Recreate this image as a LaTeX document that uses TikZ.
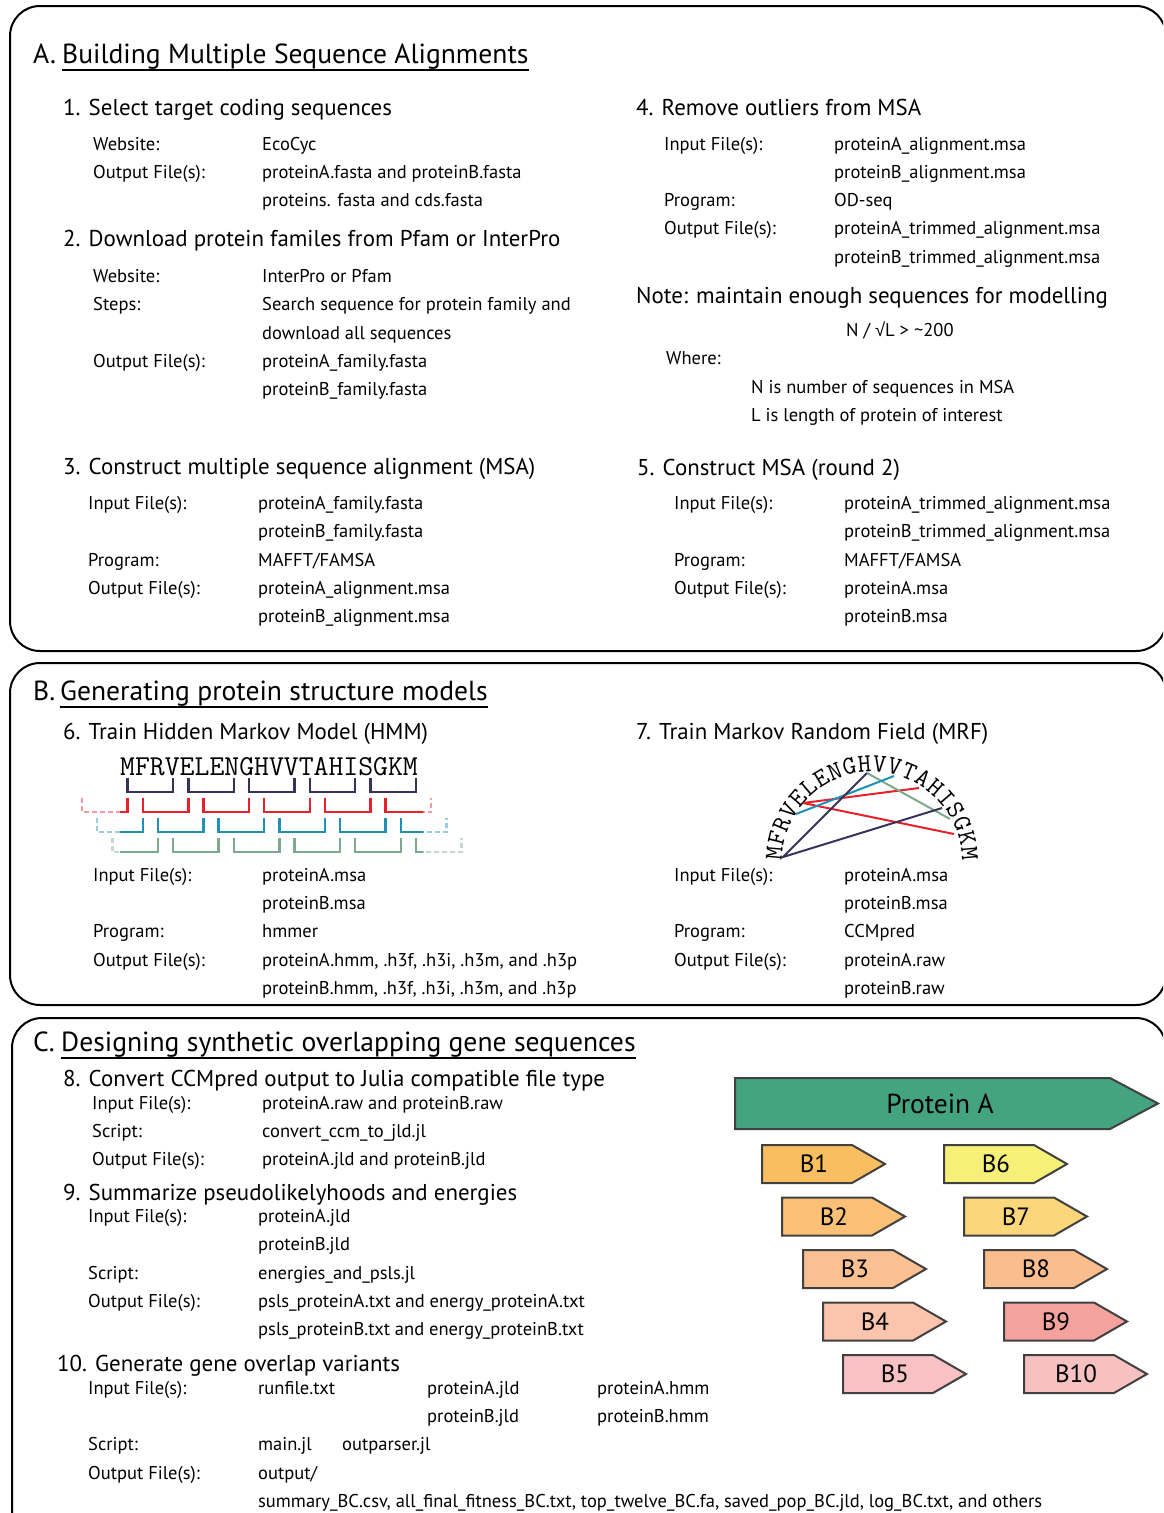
\documentclass[tikz,border=0pt]{standalone}
\usepackage{fontspec}
\setmainfont{PT Sans}
\newfontfamily\symfont{Liberation Sans}
\usetikzlibrary{calc}

\definecolor{hmmnavy}{RGB}{55,50,90}
\definecolor{hmmred}{RGB}{232,32,44}
\definecolor{hmmblue}{RGB}{30,145,180}
\definecolor{hmmgreen}{RGB}{125,170,140}
\definecolor{protA}{RGB}{68,164,130}
\definecolor{b1}{RGB}{249,190,95}
\definecolor{b2}{RGB}{249,192,118}
\definecolor{b3}{RGB}{250,192,145}
\definecolor{b4}{RGB}{251,196,172}
\definecolor{b5}{RGB}{248,194,196}
\definecolor{b6}{RGB}{246,240,120}
\definecolor{b7}{RGB}{252,214,122}
\definecolor{b8}{RGB}{250,190,142}
\definecolor{b9}{RGB}{244,162,158}
\definecolor{b10}{RGB}{247,193,193}

\tikzset{
  panel/.style={line width=2pt, rounded corners=30pt},
  sect/.style={anchor=base west, inner sep=0pt, font=\fontsize{27.6}{32}\selectfont},
  head/.style={anchor=base west, inner sep=0pt, font=\fontsize{22.9}{27}\selectfont},
  txt/.style={anchor=base west, inner sep=0pt, font=\fontsize{18.5}{22}\selectfont},
  residue/.style={inner sep=0pt, font=\ttfamily\fontsize{28.9}{29}\selectfont},
  arcres/.style={inner sep=0pt, font=\ttfamily\fontsize{26}{26}\selectfont},
  gene/.style={draw=black!75, line width=2pt},
  genelab/.style={font=\fontsize{25}{29}\selectfont},
  ulined/.style={line width=1.3pt},
}

% brackets under the sequence, one row per reading offset
\newcommand\hmmrows[1]{%
  \foreach \r/\col/\kmin in {0/hmmnavy/0,1/hmmred/-1,2/hmmblue/-1,3/hmmgreen/-1}{
    \foreach \k in {\kmin,...,4}{
      \pgfmathsetmacro\xs{120+15.18*(\r+4*\k+0.5)}
      \pgfmathsetmacro\xe{\xs+3*15.18}
      \pgfmathsetmacro\yt{778+20*\r}
      \draw[\col, line width=2.4pt, #1] (\xs,\yt) -- (\xs,\yt+14) -- (\xe,\yt+14) -- (\xe,\yt);
    }
  }%
}

\begin{document}
\begin{tikzpicture}[x=1pt, y=-1pt]
  \useasboundingbox (0,0) rectangle (1163,1513);
  \clip (0,0) rectangle (1163,1513);
  % Draw the three panels
  \draw[panel] (10,6) rectangle (1166,651);
  \draw[panel] (10,663) rectangle (1166,1005);
  \draw[panel] (12,1018) rectangle (1166,1545);

  % Panel A
  \node[sect] (Alab) at (33,63) {A.};
  \node[sect] (Atit) at (62,63) {Building Multiple Sequence Alignments};
  \draw[ulined] ($(Atit.base west)+(0,7)$) -- ($(Atit.base east)+(0,7)$);

  \node[head] (s1) at (63,115) {1. Select target coding sequences};
  \node[txt] (s1a) at (93,150) {Website:};
  \node[txt] (s1av) at (262,150) {EcoCyc};
  \node[txt] (s1b) at (93,178) {Output File(s):};
  \node[txt] (s1bv) at (262,178) {proteinA.fasta and proteinB.fasta};
  \node[txt] (s1cv) at (262,206) {proteins. fasta and cds.fasta};

  \node[head] (s2) at (63,246) {2. Download protein familes from Pfam or InterPro};
  \node[txt] (s2a) at (93,282) {Website:};
  \node[txt] (s2av) at (262,282) {InterPro or Pfam};
  \node[txt] (s2b) at (93,310) {Steps:};
  \node[txt] (s2bv) at (262,310) {Search sequence for protein family and};
  \node[txt] (s2cv) at (262,339) {download all sequences};
  \node[txt] (s2d) at (93,367) {Output File(s):};
  \node[txt] (s2dv) at (262,367) {proteinA\_family.fasta};
  \node[txt] (s2ev) at (262,395) {proteinB\_family.fasta};

  \node[head] (s3) at (63,474) {3. Construct multiple sequence alignment (MSA)};
  \node[txt] (s3a) at (88,509) {Input File(s):};
  \node[txt] (s3av) at (258,509) {proteinA\_family.fasta};
  \node[txt] (s3bv) at (258,537) {proteinB\_family.fasta};
  \node[txt] (s3c) at (88,566) {Program:};
  \node[txt] (s3cv) at (258,566) {MAFFT/FAMSA};
  \node[txt] (s3d) at (88,594) {Output File(s):};
  \node[txt] (s3dv) at (258,594) {proteinA\_alignment.msa};
  \node[txt] (s3ev) at (258,622) {proteinB\_alignment.msa};

  \node[head] (s4) at (636,115) {4. Remove outliers from MSA};
  \node[txt] (s4a) at (664,150) {Input File(s):};
  \node[txt] (s4av) at (834,150) {proteinA\_alignment.msa};
  \node[txt] (s4bv) at (834,178) {proteinB\_alignment.msa};
  \node[txt] (s4c) at (664,206) {Program:};
  \node[txt] (s4cv) at (834,206) {OD-seq};
  \node[txt] (s4d) at (664,234) {Output File(s):};
  \node[txt] (s4dv) at (834,234) {proteinA\_trimmed\_alignment.msa};
  \node[txt] (s4ev) at (834,263) {proteinB\_trimmed\_alignment.msa};

  \node[head] (note) at (636,303) {Note: maintain enough sequences for modelling};
  \node[txt] (rule) at (846,336) {N / {\symfont √}L > \textasciitilde200};
  \node[txt] (where) at (666,364) {Where:};
  \node[txt] (wN) at (751,393) {N is number of sequences in MSA};
  \node[txt] (wL) at (751,421) {L is length of protein of interest};

  \node[head] (s5) at (637,475) {5. Construct MSA (round 2)};
  \node[txt] (s5a) at (674,509) {Input File(s):};
  \node[txt] (s5av) at (844,509) {proteinA\_trimmed\_alignment.msa};
  \node[txt] (s5bv) at (844,537) {proteinB\_trimmed\_alignment.msa};
  \node[txt] (s5c) at (674,566) {Program:};
  \node[txt] (s5cv) at (844,566) {MAFFT/FAMSA};
  \node[txt] (s5d) at (674,594) {Output File(s):};
  \node[txt] (s5dv) at (844,594) {proteinA.msa};
  \node[txt] (s5ev) at (844,622) {proteinB.msa};

  % Panel B
  \node[sect] (Blab) at (33,700) {B.};
  \node[sect] (Btit) at (60,700) {Generating protein structure models};
  \draw[ulined] ($(Btit.base west)+(0,7)$) -- ($(Btit.base east)+(0,7)$);

  \node[head] (s6) at (63,739) {6. Train Hidden Markov Model (HMM)};
  \node[residue, anchor=base west] (hmmseq) at (120,775) {MFRVELENGHVVTAHISGKM};
  \begin{scope}
    \clip (120,777) rectangle (423.6,860);
    \hmmrows{}
  \end{scope}
  \begin{scope}
    \clip (60,777) rectangle (120,860) (423.6,777) rectangle (480,860);
    \hmmrows{dash pattern=on 5pt off 3pt, opacity=0.45}
  \end{scope}
  \node[txt] (s6a) at (93,881) {Input File(s):};
  \node[txt] (s6av) at (262,881) {proteinA.msa};
  \node[txt] (s6bv) at (262,909) {proteinB.msa};
  \node[txt] (s6c) at (93,937) {Program:};
  \node[txt] (s6cv) at (262,937) {hmmer};
  \node[txt] (s6d) at (93,966) {Output File(s):};
  \node[txt] (s6dv) at (262,966) {proteinA.hmm, .h3f, .h3i, .h3m, and .h3p};
  \node[txt] (s6ev) at (262,994) {proteinB.hmm, .h3f, .h3i, .h3m, and .h3p};

  \node[head] (s7) at (636,739) {7. Train Markov Random Field (MRF)};
  % residues round an arc
  \coordinate (mrfc) at (872,862);
  \foreach \ch [count=\i from 0] in {M,F,R,V,E,L,E,N,G,H,V,V,T,A,H,I,S,G,K,M}{
    \pgfmathsetmacro\ang{175-8.95*\i}
    \node[arcres, rotate=\ang-90] (m\i) at ($(mrfc)+(\ang:98pt)$) {\ch};
  }
  % couplings
  \coordinate (c1) at (783,857);
  \coordinate (c2) at (867,773);
  \coordinate (c3) at (942,808);
  \coordinate (c4) at (796,814);
  \coordinate (c5) at (894,776);
  \coordinate (c6) at (803,803);
  \coordinate (c7) at (919,788);
  \coordinate (c8) at (954,834);
  \coordinate (c9) at (950,819);
  \draw[hmmred, line width=2pt] (c6) -- (c7) (c6) -- (c8);
  \draw[hmmgreen, line width=2pt] (c2) -- (c9);
  \draw[hmmblue, line width=2pt] (c4) -- (c5);
  \draw[hmmnavy, line width=2pt] (c2) -- (c1) -- (c3);
  \node[txt] (s7a) at (674,881) {Input File(s):};
  \node[txt] (s7av) at (844,881) {proteinA.msa};
  \node[txt] (s7bv) at (844,909) {proteinB.msa};
  \node[txt] (s7c) at (674,937) {Program:};
  \node[txt] (s7cv) at (844,937) {CCMpred};
  \node[txt] (s7d) at (674,966) {Output File(s):};
  \node[txt] (s7dv) at (844,966) {proteinA.raw};
  \node[txt] (s7ev) at (844,994) {proteinB.raw};

  % Panel C
  \node[sect] (Clab) at (33,1051) {C.};
  \node[sect] (Ctit) at (61,1051) {Designing synthetic overlapping gene sequences};
  \draw[ulined] ($(Ctit.base west)+(0,7)$) -- ($(Ctit.base east)+(0,7)$);

  \node[head] (s8) at (63,1086) {8. Convert CCMpred output to Julia compatible file type};
  \node[txt] (s8a) at (92,1109) {Input File(s):};
  \node[txt] (s8av) at (262,1109) {proteinA.raw and proteinB.raw};
  \node[txt] (s8b) at (92,1137) {Script:};
  \node[txt] (s8bv) at (262,1137) {convert\_ccm\_to\_jld.jl};
  \node[txt] (s8c) at (92,1165) {Output File(s):};
  \node[txt] (s8cv) at (262,1165) {proteinA.jld and proteinB.jld};

  \node[head] (s9) at (63,1200) {9. Summarize pseudolikelyhoods and energies};
  \node[txt] (s9a) at (88,1222) {Input File(s):};
  \node[txt] (s9av) at (258,1222) {proteinA.jld};
  \node[txt] (s9bv) at (258,1250) {proteinB.jld};
  \node[txt] (s9c) at (88,1279) {Script:};
  \node[txt] (s9cv) at (258,1279) {energies\_and\_psls.jl};
  \node[txt] (s9d) at (88,1307) {Output File(s):};
  \node[txt] (s9dv) at (258,1307) {psls\_proteinA.txt and energy\_proteinA.txt};
  \node[txt] (s9ev) at (258,1335) {psls\_proteinB.txt and energy\_proteinB.txt};

  \node[head] (s10) at (57,1371) {10. Generate gene overlap variants};
  \node[txt] (s10a) at (88,1394) {Input File(s):};
  \node[txt] (s10av) at (258,1394) {runfile.txt};
  \node[txt] (s10aw) at (427,1394) {proteinA.jld};
  \node[txt] (s10ax) at (597,1394) {proteinA.hmm};
  \node[txt] (s10bw) at (427,1422) {proteinB.jld};
  \node[txt] (s10bx) at (597,1422) {proteinB.hmm};
  \node[txt] (s10c) at (88,1450) {Script:};
  \node[txt] (s10cv) at (258,1450) {main.jl};
  \node[txt] (s10cw) at (342,1450) {outparser.jl};
  \node[txt] (s10d) at (88,1479) {Output File(s):};
  \node[txt] (s10dv) at (258,1479) {output/};
  \node[txt] (s10ev) at (258,1507) {summary\_BC.csv, all\_final\_fitness\_BC.txt, top\_twelve\_BC.fa, saved\_pop\_BC.jld, log\_BC.txt, and others};

  % Draw the gene arrows
  \draw[gene, fill=protA] (735,1078) -- (1110,1078) -- (1158,1103.5) -- (1110,1129) -- (735,1129) -- cycle;
  \node[font=\fontsize{27.5}{31}\selectfont] (protA) at (940,1104) {Protein A};
  \foreach \i/\col/\xo/\r in {1/b1/762/0, 2/b2/782/1, 3/b3/803/2, 4/b4/823/3, 5/b5/843/4,
                              6/b6/944/0, 7/b7/964/1, 8/b8/984/2, 9/b9/1004/3, 10/b10/1024/4}{
    \pgfmathsetmacro\yo{1145+52.5*\r}
    \draw[gene, fill=\col] (\xo,\yo) -- ++(90,0) -- ++(33,19) -- ++(-33,19) -- ++(-90,0) -- cycle;
    \node[genelab] (B\i) at (\xo+52,\yo+19) {B\i};
  }
\end{tikzpicture}
\end{document}
